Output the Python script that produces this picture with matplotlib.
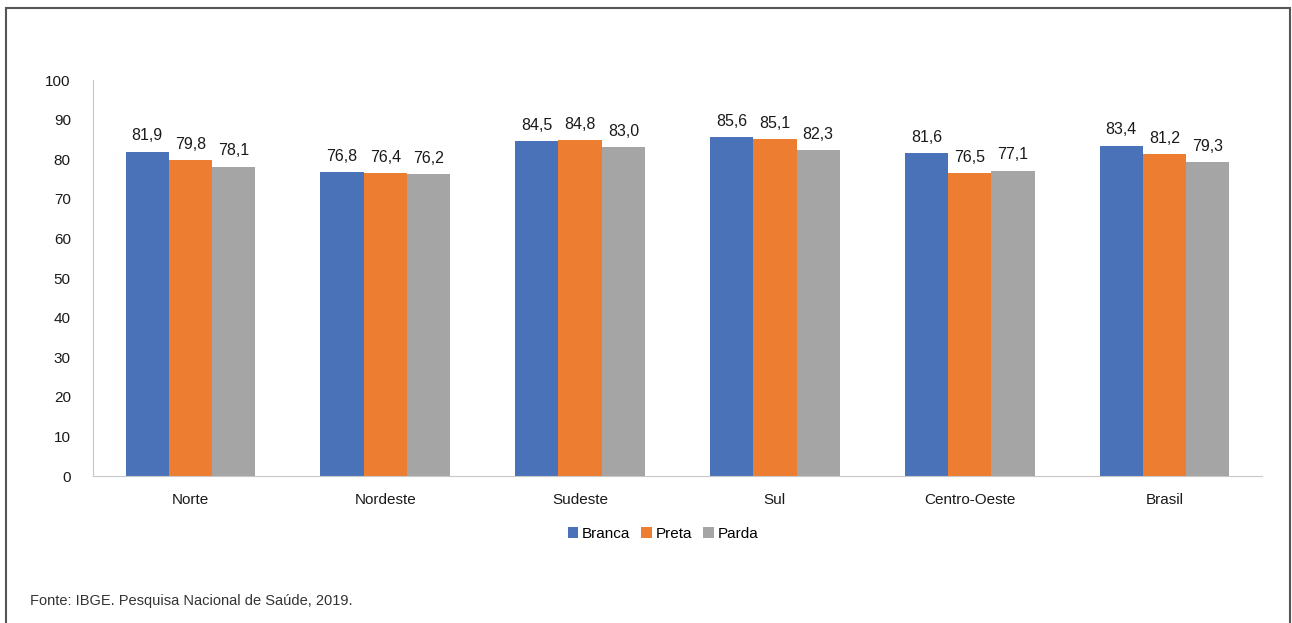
import numpy as np
import matplotlib.pyplot as plt
from matplotlib.patches import Rectangle

# Data
regioes = ['Norte', 'Nordeste', 'Sudeste', 'Sul', 'Centro-Oeste', 'Brasil']
branca = [81.9, 76.8, 84.5, 85.6, 81.6, 83.4]
preta = [79.8, 76.4, 84.8, 85.1, 76.5, 81.2]
parda = [78.1, 76.2, 83.0, 82.3, 77.1, 79.3]
series = [('Branca', branca, '#4a72b8'),
          ('Preta', preta, '#ed7d31'),
          ('Parda', parda, '#a5a5a5')]

plt.rcParams['font.family'] = ['Liberation Sans', 'DejaVu Sans']

fig = plt.figure(figsize=(12.92, 6.23), dpi=100)
ax = fig.add_axes([93/1292, 1 - 476/623, (1262-93)/1292, (476-80)/623])

x = np.arange(len(regioes))
w = 0.222
for i, (nome, vals, cor) in enumerate(series):
    bars = ax.bar(x + (i - 1) * w, vals, width=w, color=cor, label=nome)
    for b, v in zip(bars, vals):
        ax.annotate(f'{v:.1f}'.replace('.', ','),
                    (b.get_x() + b.get_width() / 2, v),
                    xytext=(0, 6), textcoords='offset points',
                    ha='center', va='bottom', fontsize=11.5, color='#1a1a1a')

ax.set_xlim(-0.5, 5.5)
ax.set_ylim(0, 100)
ax.set_yticks(range(0, 101, 10))
ax.set_xticks(x)
ax.set_xticklabels(regioes)
ax.tick_params(length=0, labelsize=11, colors='#1a1a1a')
ax.tick_params(axis='x', pad=12)
ax.tick_params(axis='y', pad=16)
for s in ['top', 'right']:
    ax.spines[s].set_visible(False)
for s in ['left', 'bottom']:
    ax.spines[s].set_color('#c8c8c8')

fig.legend(loc='center', bbox_to_anchor=(663/1292, 1 - 534/623), ncol=3,
           frameon=False, fontsize=11, handlelength=0.7, handleheight=0.7,
           handletextpad=0.25, columnspacing=0.7)

fig.text(30/1292, 1 - 601/623, 'Fonte: IBGE. Pesquisa Nacional de Saúde, 2019.',
         fontsize=10.5, color='#333333', va='center')

fig.patches.append(Rectangle((6/1292, -0.01), (1290-6)/1292, 1 - 8/623 + 0.01,
                             transform=fig.transFigure, fill=False,
                             edgecolor='#555555', linewidth=1.5))

fig.savefig('out.png', dpi=100)
